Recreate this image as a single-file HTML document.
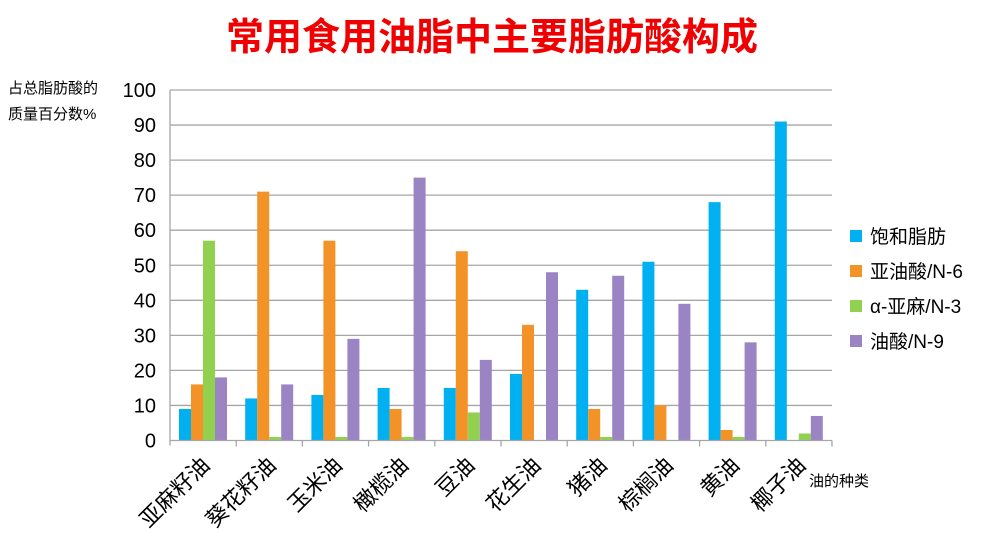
<!DOCTYPE html>
<html><head><meta charset="utf-8"><style>
body{margin:0;background:#fff;width:1000px;height:549px;overflow:hidden;font-family:"Liberation Sans","Noto Sans CJK SC",sans-serif}
</style></head><body>
<svg id="chart" width="1000" height="549" xmlns="http://www.w3.org/2000/svg" font-family="Liberation Sans, Noto Sans CJK SC, sans-serif">
<text x="492" y="50" text-anchor="middle" font-size="38" font-weight="bold" fill="#f00000">常用食用油脂中主要脂肪酸构成</text>
<text x="8" y="93" font-size="15" fill="#000">占总脂肪酸的</text>
<text x="8" y="119" font-size="15" fill="#000">质量百分数%</text>
<text x="809" y="486" font-size="15" fill="#000">油的种类</text>
<g id="grid"></g><g id="bars"></g><g id="axes"></g><g id="legend"></g>
</svg>
<script>
const categories=["亚麻籽油","葵花籽油","玉米油","橄榄油","豆油","花生油","猪油","棕榈油","黄油","椰子油"];
const seriesNames=["饱和脂肪","亚油酸/N-6","α-亚麻/N-3","油酸/N-9"];
const saturated=[9,12,13,15,15,19,43,51,68,91];
const linoleic=[16,71,57,9,54,33,9,10,3,0];
const alphaLinolenic=[57,1,1,1,8,0,1,0,1,2];
const oleic=[18,16,29,75,23,48,47,39,28,7];
const yTicks=[0,10,20,30,40,50,60,70,80,90,100];
const colors=["#00b0f0","#f39226","#92d050","#9a84c4"];
const series=[saturated,linoleic,alphaLinolenic,oleic];
const NS="http://www.w3.org/2000/svg";
const x0=170,x1=832,y0=440.5,y1=90;
const catW=(x1-x0)/categories.length;
const ys=v=>y0-(v/100)*(y0-y1);
function mk(t,a,p){const e=document.createElementNS(NS,t);for(const k in a)e.setAttribute(k,a[k]);p.appendChild(e);return e;}
const grid=document.getElementById('grid'),bars=document.getElementById('bars'),axes=document.getElementById('axes'),legend=document.getElementById('legend');
yTicks.forEach(v=>{
  if(v>0){const l=mk('line',{x1:x0,x2:x1,y1:ys(v),y2:ys(v),stroke:'#a6a6a6','stroke-width':1.3},grid);
  
  }
  const t=mk('text',{x:156,y:ys(v)+7,'text-anchor':'end','font-size':20,fill:'#000'},axes);
  t.textContent=v;
  
  
});
mk('line',{x1:x0,x2:x0,y1:y1,y2:y0+5,stroke:'#a6a6a6','stroke-width':1.3},axes);
mk('line',{x1:x0,x2:x1,y1:y0,y2:y0,stroke:'#a6a6a6','stroke-width':1.3},axes);
const bw=12;
categories.forEach((c,i)=>{
  const cx=x0+catW*i;
  const tk=mk('line',{x1:cx+catW,x2:cx+catW,y1:y0,y2:y0+6,stroke:'#a6a6a6','stroke-width':1.3},axes);
  
  
  series.forEach((s,j)=>{
    const v=s[i];
    const r=mk('rect',{x:cx+9+j*bw,y:ys(v),width:bw,height:y0-ys(v),fill:colors[j]},bars);
    
    
  });
  const mid=cx+catW/2+8;
  const t=mk('text',{x:mid,y:y0+26,'text-anchor':'end','font-size':22,fill:'#000',transform:`rotate(-45 ${mid} ${y0+26})`},axes);
  t.textContent=c;
  
  
});
seriesNames.forEach((n,j)=>{
  const y=236+j*35;
  const r=mk('rect',{x:850,y:y-6,width:12,height:12,fill:colors[j]},legend);
  
  
  const t=mk('text',{x:870,y:y+7,'font-size':19,fill:'#000'},legend);
  t.textContent=n;
  
  
});
</script>
</body></html>
